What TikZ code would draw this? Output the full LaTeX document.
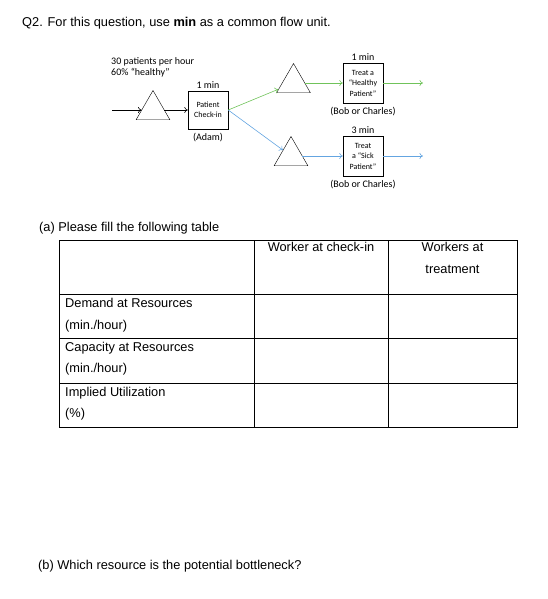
\documentclass[tikz,border=0pt]{standalone}
\usepackage{fontspec}
\setmainfont{Liberation Sans}
\newfontfamily\calib{Carlito}
\usetikzlibrary{shapes,arrows,arrows.meta,positioning,calc}
\definecolor{flowgreen}{RGB}{112,195,90}
\definecolor{flowblue}{RGB}{100,165,225}
\tikzset{
  procbox/.style={draw,fill=white,minimum width=40pt,minimum height=38pt,inner sep=1pt,align=center,font=\calib\fontsize{8}{10.5}\selectfont},
  buffer/.style={draw,regular polygon,regular polygon sides=3,minimum size=39pt,inner sep=0pt},
  note/.style={font=\calib\fontsize{10}{11}\selectfont,inner sep=1pt},
  txt/.style={anchor=base west,inner sep=0pt,font=\fontsize{12.8}{15}\selectfont},
  flow/.style={-{To[length=3.5pt,width=6pt]},semithick}
}
\begin{document}
\begin{tikzpicture}[x=1pt,y=-1pt]
                \useasboundingbox (0,0) rectangle (548,599);
                \node[txt] (title) at (22,26.5) {Q2. For this question, use \textbf{min} as a common flow unit.};
                % flow diagram
                \coordinate (src) at (112,110);
                \node[buffer] (q1) at (153,110) {};
                \node[procbox] (chk) at (208,110) {Patient\\Check-in};
                \node[note,above=1pt of chk] (tchk) {1 min};
                \node[note,below=3pt of chk] (adam) {(Adam)};
                \node[note,anchor=base west,align=left] (arr) at (110,76) {30 patients per hour\\60\% “healthy”};
                \node[buffer] (q2) at (293.5,83) {};
                \node[buffer] (q3) at (291,156) {};
                \node[procbox,minimum height=40pt] (heal) at (363,83) {Treat a\\“Healthy\\Patient”};
                \node[procbox,minimum height=40pt] (sick) at (363,156) {Treat\\a “Sick\\Patient”};
                \node[note,above=1pt of heal] (theal) {1 min};
                \node[note,below=3pt of heal] (wheal) {(Bob or Charles)};
                \node[note,above=1pt of sick] (tsick) {3 min};
                \node[note,below=3pt of sick] (wsick) {(Bob or Charles)};
                \coordinate (outh) at (423,83);
                \coordinate (outs) at (423,156);
                \draw[flow] (src) -- (q1);
                \draw[flow] (q1) -- (chk);
                \draw[flow,flowgreen] (chk.east) -- (q2);
                \draw[flow,flowblue] (chk.east) -- (q3);
                \draw[flow,flowgreen] (q2) -- (heal);
                \draw[flow,flowblue] (q3) -- (sick);
                \draw[flow,flowgreen] (heal) -- (outh);
                \draw[flow,flowblue] (sick) -- (outs);
                % table
                \node[txt] (parta) at (39,231.5) {(a) Please fill the following table};
                \draw[thick] (59,240) rectangle (517,427);
                \foreach \x in {254,388} \draw[thick] (\x,240) -- (\x,427);
                \foreach \y in {294,338,383} \draw[thick] (59,\y) -- (517,\y);
                \node[txt,anchor=base] (h1) at (321,251.6) {Worker at check-in};
                \node[txt,anchor=base] (h2) at (452.5,251.6) {Workers at};
                \node[txt,anchor=base] (h3) at (452.5,273.6) {treatment};
                \node[txt] (r1) at (65,307.6) {Demand at Resources};
                \node[txt] (r1u) at (65,329.6) {(min./hour)};
                \node[txt] (r2) at (65,351.6) {Capacity at Resources};
                \node[txt] (r2u) at (65,372.6) {(min./hour)};
                \node[txt] (r3) at (65,396.6) {Implied Utilization};
                \node[txt] (r3u) at (65,417.6) {(\%)};
                \node[txt] (partb) at (38,569.7) {(b) Which resource is the potential bottleneck?};
            \end{tikzpicture}
\end{document}
